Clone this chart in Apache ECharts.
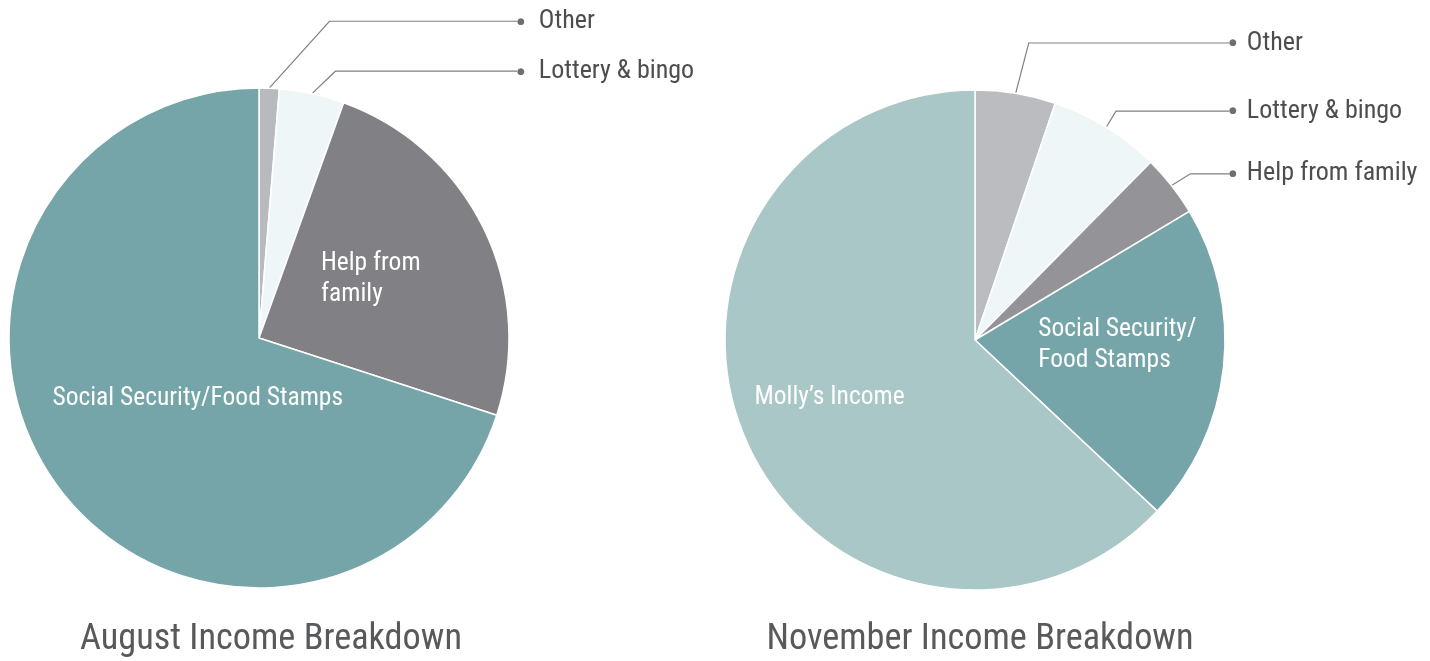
<!DOCTYPE html>
<html>
<head>
<meta charset="utf-8">
<script src="https://cdn.jsdelivr.net/npm/echarts@6/dist/echarts.min.js"></script>
<style>
  html, body { margin: 0; padding: 0; background: #fff; }
  #chart { width: 1430px; height: 661px; }
</style>
</head>
<body>
<div id="chart"></div>
<script>
// data (shares in %)
const augustNames = ["Other", "Lottery & bingo", "Help from family", "Social Security/Food Stamps"];
const augustValues = [1.3, 4.2, 24.5, 70.0];
const novemberNames = ["Other", "Lottery & bingo", "Help from family", "Social Security/Food Stamps", "Molly’s Income"];
const novemberValues = [5.2, 7.2, 4.0, 20.6, 63.0];
const chartTitles = ["August Income Breakdown", "November Income Breakdown"];

const FONT = "'Liberation Sans Narrow', 'Roboto Condensed', 'Arial Narrow', Roboto, sans-serif";

// styling per slice
const augustColors = ["#b9babe", "#eef6f8", "#818185", "#75a5a9"];
const novemberColors = ["#bbbcc0", "#eef6f8", "#949498", "#75a5a9", "#aac7c7"];
// inside labels: [text, box width]; null = outside label with leader line
const augustInside = [null, null, ["Help from\nfamily", 100], ["Social Security/Food Stamps", 290]];
const novemberInside = [null, null, null, ["Social Security/\nFood Stamps", 160], ["Molly’s Income", 156]];
const augustLineLen = [67, 23, 0, 0];
const novemberLineLen = [51, 19, 19, 0, 0];
// how far the first leader segment leans right (dx per dy)
const augustSlant = [0.9, 1.04, 0, 0];
const novemberSlant = [0.26, 0.6, 1.6, 0, 0];
const insideShift = {
  "0-2": [-3, -3], "0-3": [42, -15],
  "1-3": [16, -9], "1-4": [-25, 7]
};
const pieCenters = [[259, 338], [975, 340]];
const lineEndOffset = [258, 254];
const textGap = [14, 10];

let myChart = echarts.init(document.getElementById("chart"));

function buildData(names, values, colors, inside, lineLen) {
  return names.map((name, i) => {
    let item = { name: name, value: values[i], itemStyle: { color: colors[i] } };
    if (inside[i]) {
      let lines = inside[i][0].split("\n").map((t) => "{a|" + t + "}");
      item.label = {
        position: "inside",
        width: inside[i][1],
        formatter: lines.join("\n"),
        rich: {
          a: {
            width: inside[i][1],
            align: "left",
            color: "#fff",
            fontSize: 25.5,
            lineHeight: 31,
            fontFamily: FONT,
          },
        },
      };
      item.labelLine = { show: false };
    } else {
      item.labelLine = { show: true, length: lineLen[i] };
    }
    return item;
  });
}

function pieSeries(idx, data) {
  return {
    type: "pie",
    center: pieCenters[idx],
    radius: 250,
    startAngle: 90,
    clockwise: true,
    avoidLabelOverlap: false,
    silent: true,
    itemStyle: { borderColor: "#fff", borderWidth: 1.5 },
    label: {
      show: true,
      position: "outside",
      distanceToLabelLine: 0,
      bleedMargin: 0,
      width: 220,
      overflow: "none",
      formatter: (p) => "{d|●}{t|" + p.name + "}",
      rich: {
        d: { fontSize: 9, color: "#6d6e71", fontFamily: "DejaVu Sans" },
        t: {
          fontSize: 26,
          color: "#4d4d4f",
          fontFamily: FONT,
          padding: [0, 0, 0, textGap[idx]],
        },
      },
    },
    labelLine: {
      show: true,
      length2: 40,
      smooth: false,
      lineStyle: { color: "#808080", width: 1.2 },
    },
    labelLayout: function (params) {
      let s = insideShift[params.seriesIndex + "-" + params.dataIndex];
      if (s) {
        return { dx: s[0], dy: s[1] };
      }
      let pts = params.labelLinePoints;
      if (!pts) return;
      let si = params.seriesIndex;
      let slant = (si === 0 ? augustSlant : novemberSlant)[params.dataIndex];
      let endX = pieCenters[si][0] + lineEndOffset[si];
      let p0 = [pts[0][0], pts[0][1]];
      let p1 = [p0[0] + (p0[1] - pts[1][1]) * slant, pts[1][1]];
      return {
        x: endX,
        y: p1[1],
        align: "left",
        verticalAlign: "middle",
        labelLinePoints: [p0, p1, [endX, p1[1]]],
      };
    },
    data: data,
  };
}

let option = {
  animation: false,
  backgroundColor: "#fff",
  title: [
    {
      text: chartTitles[0],
      left: 266,
      top: 617,
      textAlign: "center",
      textStyle: { fontFamily: FONT, fontSize: 36.3, fontWeight: "normal", color: "#58595b" },
    },
    {
      text: chartTitles[1],
      left: 975,
      top: 617,
      textAlign: "center",
      textStyle: { fontFamily: FONT, fontSize: 36.3, fontWeight: "normal", color: "#58595b" },
    },
  ],
  series: [
    pieSeries(0, buildData(augustNames, augustValues, augustColors, augustInside, augustLineLen)),
    pieSeries(1, buildData(novemberNames, novemberValues, novemberColors, novemberInside, novemberLineLen)),
  ],
};
myChart.setOption(option);
</script>
</body>
</html>
